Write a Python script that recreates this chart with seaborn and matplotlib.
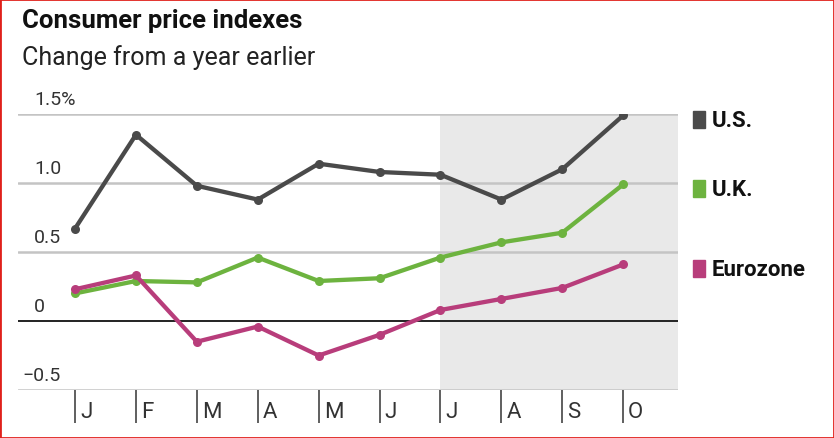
import numpy as np
import pandas as pd
import matplotlib
matplotlib.use("Agg")
import matplotlib.pyplot as plt
import matplotlib.transforms as mtransforms
from matplotlib import font_manager
from matplotlib.patches import Rectangle
import seaborn as sns

# data
months = ["J", "F", "M", "A", "M", "J", "J", "A", "S", "O"]
us = [0.67, 1.35, 0.98, 0.88, 1.14, 1.08, 1.06, 0.88, 1.10, 1.49]
uk = [0.20, 0.29, 0.28, 0.46, 0.29, 0.31, 0.46, 0.57, 0.64, 0.99]
eurozone = [0.23, 0.33, -0.15, -0.04, -0.25, -0.10, 0.08, 0.16, 0.24, 0.41]
series_names = ["U.S.", "U.K.", "Eurozone"]
colors = ["#4a4a4a", "#6db33f", "#b83d7b"]
yticks = [-0.5, 0, 0.5, 1.0, 1.5]
ytick_labels = ["\u22120.5", "0", "0.5", "1.0", "1.5%"]
shade_start = 6  # July onward is shaded

sns.set_theme(style="white")
installed = {f.name for f in font_manager.fontManager.ttflist}
base_font = "Roboto" if "Roboto" in installed else "DejaVu Sans"
narrow_font = "Liberation Sans Narrow" if "Liberation Sans Narrow" in installed else base_font
plt.rcParams["font.family"] = [base_font, "DejaVu Sans"]

df = pd.DataFrame({
    "month": np.tile(np.arange(len(months)), 3),
    "value": us + uk + eurozone,
    "series": np.repeat(series_names, len(months)),
})

fig = plt.figure(figsize=(8.34, 4.39), dpi=100)
ax = fig.add_axes([0.0216, 0.1093, 0.7914, 0.6287])

ax.axvspan(shade_start, 9.9, color="#e9e9e9", zorder=0, lw=0)
for y in yticks:
    if y == 0:
        ax.axhline(y, color="#222222", lw=1.4, zorder=1)
    else:
        ax.axhline(y, color="#c4c4c4", lw=1.8, zorder=1)

sns.lineplot(data=df, x="month", y="value", hue="series", hue_order=series_names,
             palette=colors, marker="o", markersize=6.5, markeredgewidth=0,
             linewidth=3.1, legend=False, ax=ax, zorder=3)

ax.set_xlim(-0.936, 9.9)
ax.set_ylim(-0.5, 1.5)
ax.set_xlabel("")
ax.set_ylabel("")
for s in ax.spines.values():
    s.set_visible(False)

# y labels sit above their gridlines
blend = mtransforms.blended_transform_factory(ax.transAxes, ax.transData)
for y, lab in zip(yticks, ytick_labels):
    x0 = 0.006 if y < 0 else 0.024
    ax.text(x0, y + 0.045, lab, transform=blend, ha="left", va="bottom",
            fontsize=14, color="#333333")
ax.set_yticks([])

# month ticks hang below the axis, labels to the right of each tick
ax.set_xticks(range(len(months)))
ax.set_xticklabels(months, fontsize=16, color="#333333", family=[narrow_font, "DejaVu Sans"])
ax.tick_params(axis="x", bottom=True, direction="out", length=24, width=1.2,
               color="#444444", pad=-16)
offset = mtransforms.ScaledTranslation(0.05, 0, fig.dpi_scale_trans)
for lab in ax.get_xticklabels():
    lab.set_horizontalalignment("left")
    lab.set_transform(lab.get_transform() + offset)

# legend at the right, lined up near the last values
for name, col, vals in zip(series_names, colors, [us, uk, eurozone]):
    yv = vals[-1] - 0.03
    ax.add_patch(Rectangle((1.0227, yv - 0.062), 0.018, 0.124, transform=blend,
                           color=col, clip_on=False))
    ax.text(1.0515, yv, name, transform=blend, ha="left", va="center",
            fontsize=16, fontweight="bold", color="#111111")

fig.text(0.026, 0.952, "Consumer price indexes", ha="left", va="center",
         fontsize=18.5, fontweight="bold", color="#111111")
fig.text(0.026, 0.868, "Change from a year earlier", ha="left", va="center",
         fontsize=18, color="#222222")

fig.patches.append(Rectangle((0, 0), 1, 1, transform=fig.transFigure, fill=False,
                             edgecolor="#e0201b", lw=2))

fig.savefig("out.png", dpi=100)
